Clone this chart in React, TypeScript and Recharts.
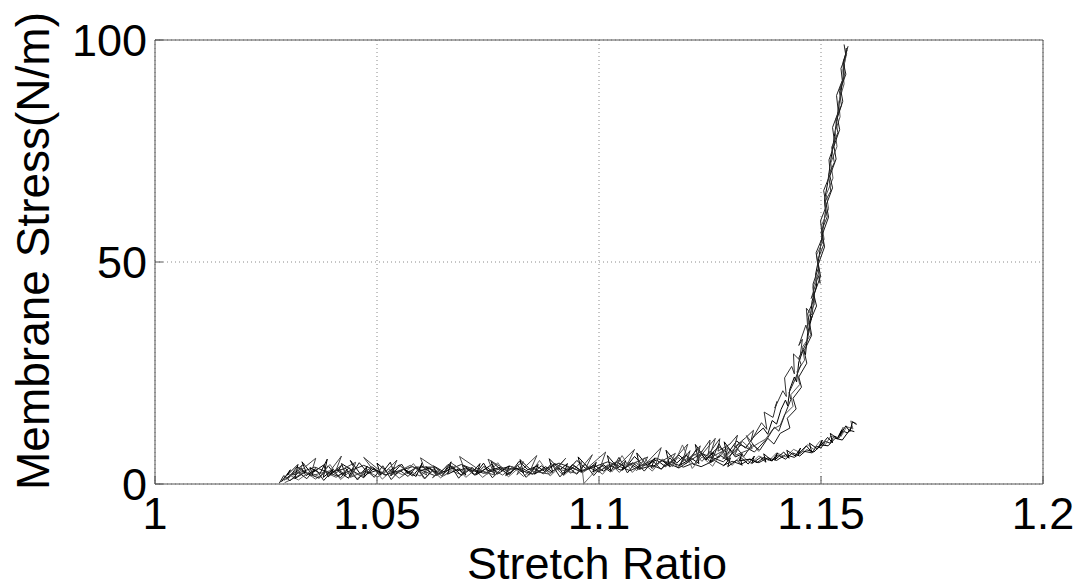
import React from "react";
import { LineChart, Line, XAxis, YAxis, CartesianGrid, Label } from "recharts";

type Pt = [number, number];

// axis ticks and their printed labels
const xTicks = [1, 1.05, 1.1, 1.15, 1.2];
const xTickLabels = ["1", "1.05", "1.1", "1.15", "1.2"];
const yTicks = [0, 50, 100];
const yTickLabels = ["0", "50", "100"];

// stretch ratio / membrane stress traces, one per pass
const loadA: Pt[] = [
  [1.029, 0.8], [1.031, 2.4], [1.03, 1.5], [1.033, 3.6], [1.034, 1.9], [1.036, 3.1],
  [1.035, 2.2], [1.038, 4.3], [1.039, 1.6], [1.041, 3.4], [1.043, 2.0], [1.042, 4.6],
  [1.045, 2.7], [1.047, 1.4], [1.049, 3.8], [1.051, 2.3], [1.053, 4.9], [1.054, 2.1],
  [1.056, 3.3], [1.058, 1.8], [1.06, 4.1], [1.062, 2.6], [1.061, 3.9], [1.064, 2.2],
  [1.066, 4.4], [1.068, 2.9], [1.07, 3.6], [1.072, 2.0], [1.074, 4.7], [1.075, 3.0],
  [1.078, 3.8], [1.08, 2.4], [1.082, 5.1], [1.084, 3.2], [1.086, 4.0], [1.088, 2.7],
  [1.09, 4.6], [1.093, 3.1], [1.095, 5.3], [1.097, 3.5], [1.099, 4.2], [1.101, 2.9],
  [1.104, 5.0], [1.106, 3.7], [1.108, 6.2], [1.11, 4.1], [1.113, 5.4], [1.115, 3.9],
  [1.118, 6.5], [1.12, 4.8], [1.122, 7.9], [1.124, 5.6], [1.127, 8.4], [1.129, 6.9],
  [1.131, 9.7], [1.133, 8.1], [1.135, 10.8], [1.137, 12.6], [1.138, 11.2], [1.139, 14.3],
  [1.14, 13.5], [1.141, 16.8], [1.142, 18.9], [1.1425, 17.6], [1.143, 21.4], [1.144, 24.1],
  [1.1445, 23.0], [1.145, 27.5], [1.146, 30.2], [1.1465, 29.1], [1.147, 34.0], [1.148, 37.8],
  [1.1475, 36.5], [1.148, 41.2], [1.149, 44.6], [1.1488, 47.3], [1.1495, 50.8], [1.15, 54.2],
  [1.1505, 57.9], [1.151, 61.3], [1.1508, 64.0], [1.1515, 67.8], [1.152, 71.5], [1.1525, 74.9],
  [1.153, 78.2], [1.1535, 81.6], [1.154, 85.1], [1.1545, 88.4], [1.155, 91.7], [1.1553, 94.8],
  [1.1557, 98.2],
];

const unloadA: Pt[] = [
  [1.1558, 97.0], [1.1549, 93.2], [1.1552, 90.1], [1.154, 86.0], [1.1543, 82.7], [1.1532, 79.4],
  [1.1536, 76.0], [1.1522, 72.3], [1.1527, 68.9], [1.1512, 65.2], [1.1517, 62.0], [1.1502, 58.4],
  [1.1507, 55.1], [1.149, 51.6], [1.1496, 48.0], [1.1482, 44.3], [1.1486, 40.7], [1.147, 37.1],
  [1.1477, 33.6], [1.1458, 30.8], [1.1463, 27.9], [1.1446, 25.3], [1.1452, 22.4], [1.1432, 20.1],
  [1.1437, 17.5], [1.1418, 15.6], [1.1408, 13.2], [1.1392, 12.4], [1.1375, 10.1], [1.1361, 9.3],
  [1.134, 8.0], [1.1323, 9.6], [1.1305, 6.9], [1.1287, 8.3], [1.127, 5.9], [1.125, 7.4],
  [1.1232, 5.1], [1.1215, 6.8], [1.1196, 4.5], [1.1178, 6.0], [1.116, 3.8], [1.1142, 5.5],
  [1.112, 3.4], [1.1103, 5.9], [1.1085, 3.0], [1.1064, 4.8], [1.1046, 2.6], [1.1027, 4.4],
  [1.1008, 2.2], [1.0985, 4.0], [1.0962, 2.5], [1.0941, 3.7], [1.092, 1.9], [1.0897, 4.2],
  [1.0875, 2.3], [1.0852, 3.5], [1.083, 1.7], [1.0806, 3.9], [1.0783, 2.0], [1.076, 3.3],
  [1.0738, 1.5], [1.0714, 3.8], [1.069, 2.1], [1.0667, 3.0], [1.0643, 1.4], [1.062, 3.6],
  [1.0597, 1.8], [1.0573, 2.9], [1.055, 1.3], [1.0526, 3.4], [1.0502, 1.6], [1.0479, 2.8],
  [1.0455, 1.2], [1.0431, 3.1], [1.0408, 1.5], [1.0384, 2.6], [1.0361, 1.1], [1.0338, 2.9],
  [1.0315, 1.4], [1.0292, 0.3],
];

const loadB: Pt[] = [
  [1.03, 1.2], [1.032, 3.9], [1.034, 2.5], [1.037, 1.3], [1.039, 4.1], [1.04, 2.8],
  [1.043, 3.5], [1.044, 1.7], [1.046, 4.8], [1.048, 2.4], [1.05, 3.1], [1.052, 1.9],
  [1.055, 4.3], [1.057, 2.6], [1.059, 3.8], [1.063, 3.8], [1.065, 2.3], [1.067, 4.0],
  [1.069, 1.9], [1.071, 3.3], [1.073, 2.5], [1.076, 4.5], [1.077, 2.2], [1.079, 3.4],
  [1.083, 3.4], [1.085, 2.3], [1.087, 4.1], [1.089, 2.6], [1.091, 3.7], [1.092, 2.1],
  [1.094, 4.4], [1.096, 3.0], [1.098, 3.6], [1.1, 2.7], [1.102, 4.3], [1.105, 3.1],
  [1.107, 4.6], [1.109, 3.3], [1.112, 4.2], [1.114, 3.4], [1.116, 5.0], [1.119, 3.8],
  [1.121, 4.6], [1.123, 3.9], [1.126, 5.3], [1.128, 4.2], [1.13, 5.1], [1.132, 4.4],
  [1.134, 5.6], [1.136, 4.8], [1.138, 5.9], [1.14, 5.3], [1.142, 6.6], [1.144, 6.0],
  [1.146, 7.4], [1.148, 7.0], [1.149, 8.5], [1.15, 8.1], [1.151, 9.6], [1.152, 9.2],
  [1.153, 10.8], [1.154, 10.3], [1.155, 11.9], [1.156, 11.5], [1.157, 13.0],
];

const unloadB: Pt[] = [
  [1.158, 13.6], [1.1567, 14.2], [1.1572, 12.4], [1.1558, 12.9], [1.1545, 10.7], [1.155, 12.8],
  [1.1536, 10.2], [1.1522, 10.8], [1.151, 8.9], [1.1497, 9.6], [1.1483, 7.8], [1.147, 8.9],
  [1.1455, 7.0], [1.1438, 7.8], [1.1421, 6.1], [1.14, 7.0], [1.1383, 5.3], [1.136, 6.3],
  [1.1342, 4.7], [1.132, 6.5], [1.13, 4.2], [1.1275, 7.2], [1.1256, 4.0], [1.1232, 6.1],
  [1.121, 3.5], [1.1188, 8.8], [1.1166, 3.9], [1.1143, 5.6], [1.112, 2.9], [1.1098, 4.9],
  [1.1075, 2.6], [1.1052, 6.4], [1.103, 2.8], [1.1008, 4.5], [1.0984, 2.1], [1.0966, 0.1],
  [1.096, 5.1], [1.0937, 2.4], [1.0913, 4.0], [1.089, 1.8], [1.0866, 5.3], [1.0843, 2.0],
  [1.082, 3.7], [1.0796, 1.6], [1.0772, 4.8], [1.0749, 2.2], [1.0725, 3.5], [1.07, 1.5],
  [1.0676, 4.2], [1.0653, 1.9], [1.063, 3.3], [1.0606, 1.2], [1.0582, 4.6], [1.0559, 2.0],
  [1.0535, 3.2], [1.0512, 1.1], [1.0488, 4.0], [1.0465, 1.7], [1.0441, 3.0], [1.0418, 1.0],
  [1.0394, 4.4], [1.0371, 1.6], [1.0347, 2.7], [1.0323, 0.9], [1.03, 2.2], [1.0282, 0.4],
];

const loadC: Pt[] = [
  [1.031, 2.0], [1.036, 3.8], [1.041, 1.8], [1.047, 4.2], [1.052, 2.1], [1.058, 3.9],
  [1.063, 1.9], [1.069, 4.4], [1.074, 2.4], [1.08, 4.0], [1.085, 2.2], [1.091, 4.7],
  [1.096, 2.8], [1.102, 5.0], [1.107, 3.0], [1.113, 5.8], [1.118, 3.6], [1.123, 6.9],
  [1.128, 5.0], [1.132, 8.8], [1.135, 7.2], [1.138, 10.4], [1.1395, 12.8], [1.1405, 11.9],
  [1.1418, 15.5], [1.1432, 19.0], [1.1428, 20.6], [1.1441, 23.4], [1.1455, 26.9], [1.145, 28.4],
  [1.1468, 31.9], [1.1475, 35.4], [1.147, 38.3], [1.1484, 41.5], [1.1482, 45.0], [1.1494, 48.6],
  [1.1489, 52.1], [1.1503, 55.5], [1.1499, 59.3], [1.1512, 62.6], [1.1506, 66.1], [1.1521, 69.8],
  [1.1518, 73.0], [1.1531, 76.7], [1.1526, 80.3], [1.1539, 83.8], [1.1535, 87.5], [1.1548, 90.9],
  [1.1545, 93.6], [1.1556, 96.5], [1.1552, 99.0],
];

const bandD: Pt[] = [
  [1.0285, 0.5], [1.0305, 3.2], [1.0298, 2.0], [1.0322, 4.4], [1.0315, 1.2], [1.034, 2.8],
  [1.0331, 5.0], [1.0356, 1.9], [1.0349, 3.7], [1.0372, 2.4], [1.0388, 5.6], [1.0379, 1.5],
  [1.0401, 3.3], [1.0395, 2.1], [1.042, 4.2], [1.0412, 2.9], [1.0436, 1.3], [1.0447, 3.9],
  [1.044, 5.3], [1.0463, 2.2], [1.0478, 4.0], [1.047, 1.6], [1.0493, 3.5], [1.0508, 2.0],
  [1.05, 4.7], [1.0524, 2.6], [1.0539, 3.8], [1.0531, 1.8], [1.0555, 4.5], [1.057, 2.3],
  [1.0562, 3.3], [1.0588, 1.7], [1.0602, 4.8], [1.0594, 2.9], [1.0619, 3.6], [1.0635, 1.9],
  [1.0627, 4.1], [1.0651, 2.7], [1.0667, 5.0], [1.0659, 2.2], [1.0684, 3.4], [1.07, 2.0],
  [1.0692, 4.3], [1.0716, 2.8], [1.0732, 4.6], [1.0724, 2.1], [1.0749, 3.7], [1.0765, 2.3],
  [1.0757, 5.2], [1.0781, 3.0], [1.0798, 4.1], [1.079, 1.9], [1.0814, 3.6], [1.083, 2.5],
  [1.0822, 5.5], [1.0847, 3.1], [1.0863, 4.4], [1.0855, 2.2], [1.088, 3.9], [1.0896, 2.6],
  [1.0888, 5.7], [1.0912, 3.2], [1.0929, 4.6], [1.0921, 2.4], [1.0945, 4.0], [1.0961, 2.8],
  [1.0953, 6.1], [1.0978, 3.4], [1.0994, 4.9], [1.0986, 2.7], [1.101, 4.3], [1.1027, 3.0],
  [1.1019, 6.4], [1.1043, 3.6], [1.106, 5.2], [1.1052, 3.1], [1.1076, 4.8], [1.1093, 3.4],
  [1.1085, 7.0], [1.1109, 4.1], [1.1126, 5.9], [1.1118, 3.7], [1.1142, 5.3], [1.1159, 4.0],
  [1.1151, 7.6], [1.1175, 4.7], [1.1192, 6.3], [1.1184, 4.3], [1.1208, 5.8], [1.1225, 4.6],
  [1.1217, 8.9], [1.1241, 5.4], [1.1258, 7.1], [1.125, 5.0], [1.1274, 6.4], [1.129, 5.3],
  [1.1282, 9.5], [1.1307, 6.1], [1.1323, 6.8], [1.1315, 5.2], [1.134, 5.6], [1.1356, 4.8],
  [1.1372, 6.0], [1.1388, 5.2], [1.1404, 6.5], [1.142, 5.6], [1.1436, 7.0], [1.1452, 6.3],
  [1.1468, 7.7], [1.1484, 7.2], [1.15, 8.8], [1.1516, 8.6], [1.1532, 10.3], [1.1548, 9.9],
  [1.1564, 12.1], [1.1575, 11.8],
];

const climbE: Pt[] = [
  [1.118, 4.2], [1.1205, 7.5], [1.1198, 5.1], [1.1228, 8.6], [1.1221, 5.8], [1.125, 9.9],
  [1.1246, 6.6], [1.1272, 10.2], [1.1268, 7.4], [1.1295, 9.0], [1.1312, 11.0], [1.1305, 8.3],
  [1.133, 10.4], [1.1348, 12.1], [1.1342, 9.6], [1.1366, 13.8], [1.1378, 12.3], [1.1372, 16.2],
  [1.1392, 15.0], [1.1401, 18.6], [1.1396, 17.1], [1.1414, 21.0], [1.1422, 19.7], [1.1418, 23.9],
  [1.1434, 26.5], [1.144, 24.8], [1.1438, 29.3], [1.1452, 27.9], [1.1458, 32.6], [1.145, 31.2],
  [1.1466, 35.8], [1.1471, 33.9], [1.1467, 39.6], [1.148, 38.0], [1.1485, 43.1], [1.1478, 41.8],
  [1.1494, 46.9], [1.1498, 45.2], [1.1492, 50.3], [1.1506, 53.9], [1.15, 56.7], [1.1514, 60.2],
  [1.1508, 63.4], [1.1522, 66.0], [1.1517, 69.6], [1.153, 72.4], [1.1524, 75.8], [1.1538, 79.1],
  [1.1533, 82.0], [1.1546, 85.3], [1.1541, 88.7], [1.1553, 92.0], [1.1549, 94.6], [1.1559, 97.8],
];

const returnF: Pt[] = [
  [1.1561, 98.6], [1.155, 95.1], [1.1556, 92.3], [1.1544, 89.0], [1.1549, 86.2], [1.1537, 82.5],
  [1.1542, 79.8], [1.1529, 76.1], [1.1534, 73.2], [1.152, 69.4], [1.1526, 66.7], [1.1512, 62.9],
  [1.1517, 60.1], [1.1503, 56.2], [1.1508, 53.4], [1.1494, 49.5], [1.1499, 46.8], [1.1484, 42.6],
  [1.149, 40.1], [1.1474, 36.3], [1.1479, 33.5], [1.1462, 30.0], [1.1468, 27.2], [1.145, 24.1],
  [1.1456, 21.8], [1.1437, 19.3], [1.1444, 16.9], [1.1424, 14.8], [1.143, 12.6], [1.1408, 11.4],
  [1.1394, 9.0], [1.138, 10.3], [1.1362, 7.6], [1.1345, 8.9], [1.1326, 6.2], [1.1308, 8.4],
  [1.129, 5.4], [1.127, 9.1], [1.1252, 4.8], [1.1233, 7.0], [1.1214, 4.3], [1.1196, 6.6],
  [1.1178, 3.6], [1.116, 5.9], [1.114, 3.3], [1.1121, 5.2], [1.1102, 2.9], [1.1083, 4.9],
  [1.1064, 2.5], [1.1045, 6.0], [1.1026, 2.7], [1.1007, 4.1], [1.0988, 1.9], [1.0969, 4.5],
  [1.095, 2.2], [1.0931, 3.8], [1.0912, 1.6], [1.0893, 4.6], [1.0874, 2.4], [1.0855, 3.5],
  [1.0836, 1.5], [1.0817, 4.2], [1.0798, 2.1], [1.0779, 3.3], [1.076, 1.4], [1.0741, 4.0],
  [1.0722, 2.0], [1.0703, 3.6], [1.0684, 1.3], [1.0665, 4.3], [1.0646, 1.8], [1.0627, 3.4],
  [1.0608, 1.2], [1.0589, 3.9], [1.057, 1.7], [1.0551, 3.1], [1.0532, 1.0], [1.0513, 4.1],
  [1.0494, 1.5], [1.0475, 3.2], [1.0456, 0.9], [1.0437, 3.7], [1.0418, 1.4], [1.0399, 2.9],
  [1.038, 0.8], [1.0361, 3.5], [1.0342, 1.2], [1.0323, 2.6], [1.0304, 0.7], [1.029, 1.9],
  [1.028, 0.2],
];

const lowerG: Pt[] = [
  [1.128, 4.0], [1.1296, 5.9], [1.129, 3.9], [1.131, 5.4], [1.1322, 4.2], [1.1318, 6.1],
  [1.1336, 4.5], [1.135, 6.3], [1.1344, 4.6], [1.1364, 6.0], [1.1376, 4.9], [1.1371, 6.8],
  [1.139, 5.2], [1.1402, 7.0], [1.1396, 5.4], [1.1416, 7.2], [1.1428, 5.8], [1.1423, 7.6],
  [1.1442, 6.3], [1.1454, 8.1], [1.1448, 6.7], [1.1467, 8.6], [1.1479, 7.2], [1.1474, 9.2],
  [1.1492, 7.9], [1.1503, 9.9], [1.1498, 8.5], [1.1515, 10.5], [1.1526, 9.3], [1.1521, 11.4],
  [1.1537, 10.2], [1.1547, 12.2], [1.1542, 10.9], [1.1556, 13.1], [1.1565, 11.8], [1.1571, 14.0],
  [1.158, 13.4],
];

const bandH: Pt[] = [
  [1.0295, 1.0], [1.0335, 4.6], [1.0318, 2.2], [1.0362, 5.8], [1.035, 1.8], [1.0395, 3.0],
  [1.042, 6.3], [1.0405, 2.4], [1.0452, 4.9], [1.044, 1.5], [1.0488, 3.6], [1.047, 6.0],
  [1.0515, 2.3], [1.0545, 5.4], [1.053, 1.9], [1.0575, 4.2], [1.0612, 2.0], [1.0598, 5.9],
  [1.064, 3.1], [1.0625, 1.4], [1.0668, 4.7], [1.07, 2.5], [1.0686, 6.2], [1.073, 3.2],
  [1.0765, 2.0], [1.075, 5.6], [1.0795, 2.9], [1.083, 5.0], [1.0815, 2.1], [1.086, 6.4],
  [1.0845, 3.0], [1.089, 2.2], [1.0925, 5.8], [1.0905, 3.4], [1.095, 2.4], [1.0985, 6.6],
  [1.0968, 3.1], [1.1015, 7.2], [1.1, 2.9], [1.1048, 5.5], [1.1035, 3.3], [1.108, 7.8],
  [1.1062, 4.0], [1.111, 6.1], [1.1095, 3.5], [1.114, 8.2], [1.1128, 4.4], [1.1172, 6.9],
  [1.1158, 4.2], [1.12, 9.0], [1.1188, 5.2], [1.1232, 7.4], [1.1218, 5.0], [1.1262, 10.3],
  [1.1248, 5.8], [1.1292, 8.1], [1.1279, 5.6], [1.132, 9.4], [1.1305, 6.4], [1.1345, 8.0],
  [1.1332, 10.9], [1.136, 7.3],
];

const traces = [
  { key: "loadA", pts: loadA, color: "#000000" },
  { key: "unloadA", pts: unloadA, color: "#555555" },
  { key: "loadB", pts: loadB, color: "#111111" },
  { key: "unloadB", pts: unloadB, color: "#666666" },
  { key: "loadC", pts: loadC, color: "#222222" },
  { key: "bandD", pts: bandD, color: "#000000" },
  { key: "climbE", pts: climbE, color: "#333333" },
  { key: "returnF", pts: returnF, color: "#1a1a1a" },
  { key: "lowerG", pts: lowerG, color: "#000000" },
  { key: "bandH", pts: bandH, color: "#444444" },
];

const toRows = (pts: Pt[]) => pts.map(([x, y]) => ({ x, y }));

const font = "'Liberation Sans', Arial, Helvetica, sans-serif";
const frame = "#555555";
const tickFont = { fill: "#000", fontSize: 45, fontFamily: font };

const fmtX = (v: number) => xTickLabels[xTicks.indexOf(v)] ?? String(v);
const fmtY = (v: number) => yTickLabels[yTicks.indexOf(v)] ?? String(v);

const xTitle = () => (
  <text x={597} y={579} textAnchor="middle" fontSize={45} fontFamily={font} fill="#000">
    Stretch Ratio
  </text>
);

const yTitle = () => (
  <text
    x={49}
    y={251}
    transform="rotate(-90 49 251)"
    textAnchor="middle"
    fontSize={46}
    fontFamily={font}
    fill="#000"
  >
    Membrane Stress(N/m)
  </text>
);

export default function App() {
  return (
    <div style={{ position: "absolute", left: 0, top: 0, background: "#fff" }}>
      <LineChart width={1081} height={588} margin={{ top: 39, right: 37, bottom: 44, left: 95 }}>
        <CartesianGrid stroke="#8a8a8a" strokeDasharray="1 3" />
        <XAxis
          type="number"
          dataKey="x"
          domain={[1, 1.2]}
          ticks={xTicks}
          interval={0}
          allowDataOverflow
          height={60}
          axisLine={{ stroke: frame }}
          tickLine={{ stroke: frame }}
          tickSize={-8}
          tickMargin={21}
          tick={tickFont}
          tickFormatter={fmtX}
        >
          <Label content={xTitle} />
        </XAxis>
        <XAxis
          xAxisId="top"
          orientation="top"
          type="number"
          domain={[1, 1.2]}
          ticks={xTicks}
          interval={0}
          allowDataOverflow
          height={1}
          axisLine={{ stroke: frame }}
          tickLine={{ stroke: frame }}
          tickSize={-8}
          tick={false}
        />
        <YAxis
          type="number"
          domain={[0, 100]}
          ticks={yTicks}
          interval={0}
          allowDataOverflow
          width={60}
          axisLine={{ stroke: frame }}
          tickLine={{ stroke: frame }}
          tickSize={-8}
          tickMargin={16}
          tick={tickFont}
          tickFormatter={fmtY}
        >
          <Label content={yTitle} />
        </YAxis>
        <YAxis
          yAxisId="right"
          orientation="right"
          type="number"
          domain={[0, 100]}
          ticks={yTicks}
          interval={0}
          allowDataOverflow
          width={1}
          axisLine={{ stroke: frame }}
          tickLine={{ stroke: frame }}
          tickSize={-8}
          tick={false}
        />
        {traces.map((t) => (
          <Line
            key={t.key}
            data={toRows(t.pts)}
            dataKey="y"
            type="linear"
            stroke={t.color}
            strokeWidth={1}
            dot={false}
            activeDot={false}
            isAnimationActive={false}
          />
        ))}
      </LineChart>
    </div>
  );
}
